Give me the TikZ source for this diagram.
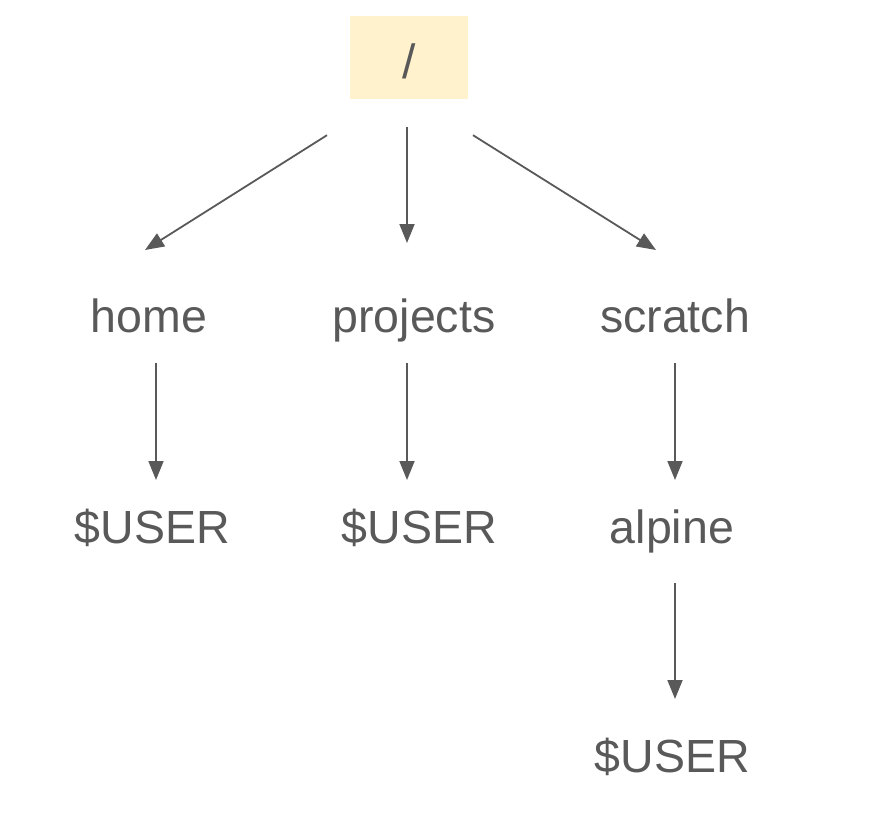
\documentclass[tikz,border=0pt]{standalone}
\usepackage{fontspec}
\setmainfont{Liberation Sans}
\usetikzlibrary{arrows.meta}
\definecolor{ink}{HTML}{595959}
\definecolor{cream}{HTML}{FFF2CC}
\tikzset{
  lbl/.style={anchor=base, inner sep=0pt, text=ink, font=\fontsize{46.5}{52}\selectfont},
  rootbox/.style={fill=cream, draw=none, inner sep=0pt, minimum width=118pt, minimum height=83pt,
    text height=62.5pt, text depth=20.5pt, text=ink, font=\fontsize{48}{52}\selectfont},
  arr/.style={draw=ink, line width=1.8pt, -{Triangle[length=19pt,width=15pt]}}
}
\begin{document}
\begin{tikzpicture}[x=1pt,y=-1pt]
\useasboundingbox (0,0) rectangle (872,816);
\node[rootbox] (root) at (409,57.5) {/};
\node[lbl] (home) at (149,332) {home};
\node[lbl] (projects) at (414,332) {projects};
\node[lbl] (scratch) at (675,332) {scratch};
\node[lbl] (user1) at (152.5,543) {\$USER};
\node[lbl] (user2) at (419.5,543) {\$USER};
\node[lbl] (alpine) at (672,543) {alpine};
\node[lbl] (user3) at (672.5,772) {\$USER};
\draw[arr] ([shift={(-82,36)}]root.south) -- ([shift={(-4,-82)}]home.base);
\draw[arr] ([shift={(-2,28)}]root.south) -- ([shift={(-7,-89)}]projects.base);
\draw[arr] ([shift={(64,36)}]root.south) -- ([shift={(-19,-82)}]scratch.base);
\draw[arr] ([shift={(7,31)}]home.base) -- ([shift={(3.5,-63)}]user1.base);
\draw[arr] ([shift={(-7,31)}]projects.base) -- ([shift={(-12.5,-63)}]user2.base);
\draw[arr] ([shift={(0,31)}]scratch.base) -- ([shift={(3,-63)}]alpine.base);
\draw[arr] ([shift={(3,40)}]alpine.base) -- ([shift={(2.5,-73)}]user3.base);
\end{tikzpicture}
\end{document}
